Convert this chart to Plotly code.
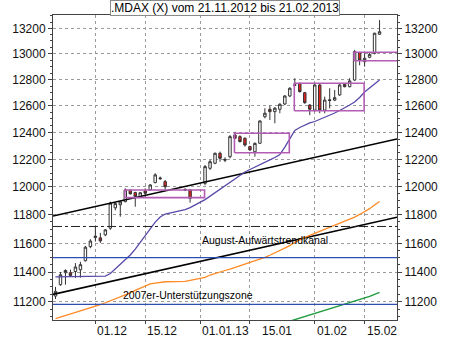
import math
import plotly.graph_objects as go

# ---------------- data ----------------
dates = [
    "2012-11-21", "2012-11-22", "2012-11-23", "2012-11-26", "2012-11-27", "2012-11-28", "2012-11-29", "2012-11-30",
    "2012-12-03", "2012-12-04", "2012-12-05", "2012-12-06", "2012-12-07", "2012-12-10", "2012-12-11", "2012-12-12",
    "2012-12-13", "2012-12-14", "2012-12-17", "2012-12-18", "2012-12-19", "2012-12-20", "2012-12-21", "2012-12-27",
    "2012-12-28",
    "2013-01-02", "2013-01-03", "2013-01-04", "2013-01-07", "2013-01-08", "2013-01-09", "2013-01-10", "2013-01-11",
    "2013-01-14", "2013-01-15", "2013-01-16", "2013-01-17", "2013-01-18", "2013-01-21", "2013-01-22", "2013-01-23",
    "2013-01-24", "2013-01-25", "2013-01-28", "2013-01-29", "2013-01-30", "2013-01-31",
    "2013-02-01", "2013-02-04", "2013-02-05", "2013-02-06", "2013-02-07", "2013-02-08", "2013-02-11", "2013-02-12",
    "2013-02-13", "2013-02-14", "2013-02-15", "2013-02-18", "2013-02-19", "2013-02-20",
]
opens = [11238, 11315, 11397, 11397, 11405, 11417, 11479, 11577,
         11640, 11638, 11659, 11706, 11850, 11872, 11894, 11973,
         11959, 11930, 11971, 11978, 12031, 12065, 12038, 11982,
         11978,
         12026, 12135, 12172, 12245, 12200, 12220, 12380, 12368,
         12356, 12294, 12256, 12319, 12517, 12573, 12555, 12573,
         12613, 12674, 12760, 12771, 12699, 12605,
         12567, 12758, 12567, 12645, 12643, 12682, 12763, 12745,
         12796, 13008, 12938, 12972, 13003, 13153]
highs = [11300, 11402, 11420, 11418, 11463, 11472, 11582, 11629,
         11717, 11673, 11700, 11894, 11890, 11900, 11990, 11985,
         11965, 11962, 11990, 12020, 12099, 12075, 12050, 11990,
         11985,
         12159, 12196, 12250, 12257, 12215, 12380, 12404, 12378,
         12362, 12300, 12325, 12490, 12581, 12600, 12590, 12618,
         12680, 12740, 12810, 12775, 12705, 12612,
         12771, 12765, 12669, 12733, 12720, 12765, 12770, 12810,
         13030, 13015, 13003, 13005, 13165, 13265]
lows = [11218, 11308, 11315, 11370, 11361, 11363, 11474, 11566,
        11612, 11603, 11650, 11694, 11832, 11787, 11890, 11945,
        11858, 11922, 11930, 11975, 12026, 12050, 11978, 11970,
        11887,
        12012, 12123, 12165, 12183, 12180, 12208, 12350, 12325,
        12294, 12262, 12220, 12315, 12505, 12492, 12468, 12543,
        12605, 12665, 12750, 12700, 12615, 12529,
        12554, 12543, 12543, 12580, 12635, 12675, 12740, 12740,
        12790, 12910, 12900, 12965, 12995, 13148]
closes = [11270, 11383, 11412, 11378, 11436, 11452, 11573, 11616,
          11650, 11617, 11694, 11883, 11880, 11892, 11978, 11950,
          11930, 11958, 11954, 12014, 12087, 12060, 12001, 11978,
          11918,
          12147, 12183, 12245, 12208, 12195, 12368, 12356, 12331,
          12306, 12270, 12318, 12485, 12543, 12555, 12581, 12611,
          12674, 12733, 12755, 12707, 12623, 12573,
          12758, 12567, 12643, 12640, 12661, 12758, 12745, 12789,
          13016, 12951, 12964, 12995, 13161, 13173]

ma_purple = [11369, 11369, 11369, 11369, 11369, 11369, 11369, 11369,
             11369, 11369, 11374, 11391, 11422, 11453, 11485, 11519,
             11560, 11609, 11658, 11707, 11749, 11785, 11806, 11838,
             11852,
             11909, 11934, 11956, 11981, 12006, 12032, 12057, 12082,
             12108, 12126, 12142, 12159, 12177, 12196, 12214, 12236,
             12291, 12358, 12414, 12436, 12455, 12470,
             12481, 12496, 12513, 12530, 12545, 12564, 12583, 12605,
             12628, 12662, 12704, 12735, 12765, 12796]
ma_orange = [11087, 11097, 11107, 11118, 11129, 11139, 11150, 11160,
             11171, 11181, 11193, 11206, 11219, 11232, 11244, 11260,
             11276, 11292, 11307, 11320, 11326, 11332, 11335, 11337,
             11343,
             11365, 11381, 11393, 11404, 11412, 11422, 11433, 11444,
             11456, 11465, 11478, 11490, 11503, 11517, 11533, 11549,
             11564, 11584, 11607, 11627, 11642, 11656,
             11670, 11686, 11701, 11715, 11730, 11744, 11757, 11770,
             11784, 11803, 11822, 11844, 11870, 11895]
green_dates = dates[-21:]
ma_green = [11049, 11059, 11070, 11081, 11091, 11103, 11113,
            11122, 11133, 11142, 11152, 11162, 11172, 11181, 11193,
            11204, 11215, 11224, 11236, 11250, 11263]

x_range = ["2012-11-20 12:00", "2013-02-25 12:00"]
y_range_vals = [11077.5, 13306]
y_ticks = list(range(11200, 13201, 200))
y_minor = list(range(11100, 13301, 50))

tick_dates = ["2012-12-03", "2012-12-17", "2013-01-01", "2013-01-15", "2013-02-01", "2013-02-15"]
tick_labels = ["01.12", "15.12", "01.01.13", "15.01", "01.02", "15.02"]

channel_upper = [11792, 12351]
channel_lower = [11249, 11783]
levels_blue = [11500, 11182]
level_dashdot = 11718

box_x0 = ["2012-12-10 21:36", "2013-01-09 21:36", "2013-01-25 21:36", "2013-02-12 21:36"]
box_x1 = ["2013-01-01 21:36", "2013-01-24 21:36", "2013-02-14 21:36", "2013-02-28 12:00"]
box_lo = [11923, 12249, 12562, 12945]
box_hi = [11978, 12393, 12771, 13011]

label_channel = "August-Aufwärtstrendkanal"
label_channel_pos = ("2013-01-01", 11621)
label_support = "2007er-Unterstützungszone"
label_support_pos = ("2012-12-10 05:00", 11243)
title_text = ".MDAX (X) vom 21.11.2012 bis 21.02.2013"

# ---------------- figure ----------------
FONT = "Liberation Sans, Arial, sans-serif"
fig = go.Figure()

for lv in levels_blue:
    fig.add_trace(go.Scatter(x=x_range, y=[lv, lv], mode="lines", yaxis="y2",
                             line=dict(color="#2d4fae", width=1.3), hoverinfo="skip", showlegend=False))
fig.add_trace(go.Scatter(x=x_range, y=[level_dashdot, level_dashdot], mode="lines", yaxis="y2",
                         line=dict(color="#222222", width=1, dash="dashdot"), hoverinfo="skip", showlegend=False))

for ch in (channel_upper, channel_lower):
    fig.add_trace(go.Scatter(x=x_range, y=ch, mode="lines",
                             line=dict(color="#000000", width=1.6), hoverinfo="skip", showlegend=False))

fig.add_trace(go.Scatter(x=green_dates, y=ma_green, mode="lines",
                         line=dict(color="#1f9a3c", width=1.4), showlegend=False))
fig.add_trace(go.Scatter(x=dates, y=ma_orange, mode="lines",
                         line=dict(color="#ff8a24", width=1.3), showlegend=False))
fig.add_trace(go.Scatter(x=dates, y=ma_purple, mode="lines",
                         line=dict(color="#5848a8", width=1.3), showlegend=False))

for x0, x1, lo, hi in zip(box_x0, box_x1, box_lo, box_hi):
    fig.add_trace(go.Scatter(x=[x0, x1, x1, x0, x0], y=[lo, lo, hi, hi, lo], mode="lines",
                             line=dict(color="#b45cb4", width=1.6), hoverinfo="skip", showlegend=False))

fig.add_trace(go.Candlestick(
    x=dates, open=opens, high=highs, low=lows, close=closes,
    increasing=dict(line=dict(color="#333333", width=1), fillcolor="#ffffff"),
    decreasing=dict(line=dict(color="#333333", width=1), fillcolor="#e8201c"),
    whiskerwidth=0, showlegend=False))

yr = [math.log10(v) for v in y_range_vals]
yaxis_common = dict(
    type="log", range=yr, tickmode="array", tickvals=y_ticks,
    ticktext=[str(v) for v in y_ticks], ticks="outside", ticklen=4,
    tickcolor="#444", linecolor="#444", linewidth=1, showline=True,
    tickfont=dict(family=FONT, size=12, color="#111"),
    minor=dict(tickmode="array", tickvals=y_minor, ticks="outside", ticklen=2, tickcolor="#444", showgrid=False),
    zeroline=False, fixedrange=True,
)

fig.update_layout(
    width=450, height=338,
    margin=dict(l=38, r=38, t=15, b=18),
    paper_bgcolor="white", plot_bgcolor="white",
    font=dict(family=FONT, size=12, color="#111"),
    showlegend=False,
    xaxis=dict(
        type="date", range=x_range,
        rangebreaks=[dict(bounds=["sat", "mon"])],
        rangeslider=dict(visible=False),
        tickmode="array", tickvals=tick_dates, showticklabels=False,
        ticks="outside", ticklen=3, tickcolor="#444",
        showgrid=True, gridcolor="#9a9a9a", griddash="dot", gridwidth=1,
        showline=True, linecolor="#444", linewidth=1, mirror=True, zeroline=False,
    ),
    yaxis=dict(side="left", showgrid=True, gridcolor="#9a9a9a", griddash="dot", gridwidth=1,
               mirror=False, **yaxis_common),
    yaxis2=dict(side="right", overlaying="y", showgrid=False, **yaxis_common),
)

annotations = []
for d, t in zip(tick_dates, tick_labels):
    annotations.append(dict(x=d, y=0, xref="x", yref="paper", text=t, showarrow=False,
                            xanchor="left", yanchor="top", yshift=-2,
                            xshift=10 if t == "15.01" else 0,
                            font=dict(family=FONT, size=12, color="#111")))
annotations.append(dict(x=label_channel_pos[0], y=math.log10(label_channel_pos[1]), xref="x", yref="y",
                        text=label_channel, showarrow=False, xanchor="left", yanchor="middle",
                        font=dict(family=FONT, size=10.5, color="#000")))
annotations.append(dict(x=label_support_pos[0], y=math.log10(label_support_pos[1]), xref="x", yref="y",
                        text=label_support, showarrow=False, xanchor="left", yanchor="middle",
                        font=dict(family=FONT, size=10.5, color="#000")))
annotations.append(dict(x=0.5, y=1, xref="paper", yref="paper", text=title_text, showarrow=False,
                        xanchor="center", yanchor="middle", yshift=7,
                        bgcolor="white", bordercolor="#8a8a8a", borderwidth=1, borderpad=0,
                        font=dict(family=FONT, size=12, color="#000")))
fig.update_layout(annotations=annotations)

fig.write_html("out.html")
